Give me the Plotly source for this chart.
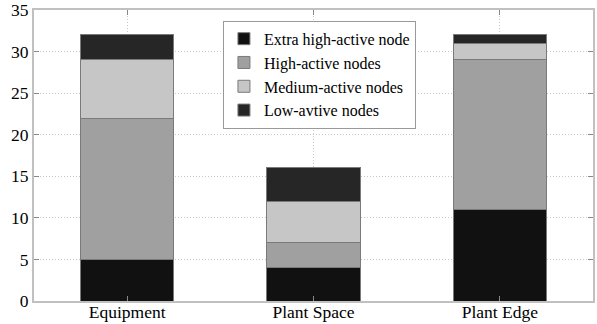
import plotly.graph_objects as go

categories = ["Equipment", "Plant Space", "Plant Edge"]
extra_high = [5, 4, 11]
high = [17, 3, 18]
medium = [7, 5, 2]
low = [3, 4, 1]
series_names = ["Extra high-active node", "High-active nodes", "Medium-active nodes", "Low-avtive nodes"]
series_colors = ["#111111", "#a0a0a0", "#c6c6c6", "#262626"]
y_ticks = [0, 5, 10, 15, 20, 25, 30, 35]

fig = go.Figure()
for name, vals, col in zip(series_names, [extra_high, high, medium, low], series_colors):
    fig.add_trace(go.Bar(x=categories, y=vals, name=name, marker=dict(color=col, line=dict(color="#7a7a7a", width=1)), width=0.5))

FAM = "Times New Roman, Liberation Serif, serif"
font = dict(family=FAM, size=17.5, color="#000000")
fig.update_layout(
    barmode="stack",
    width=597, height=324,
    margin=dict(l=34, r=4, t=10, b=23),
    plot_bgcolor="white", paper_bgcolor="white",
    font=font,
    legend=dict(x=0.338, y=0.963, xanchor="left", yanchor="top", traceorder="normal",
                bordercolor="#999999", borderwidth=1, bgcolor="white",
                font=dict(family=FAM, size=16),
                tracegroupgap=0, itemwidth=30),
    showlegend=True,
)
fig.update_xaxes(range=[-0.5, 2.5], showline=True, mirror="ticks", linecolor="#c0c0c0", linewidth=2,
                 showgrid=True, gridcolor="#c8c8c8", griddash="1px,2px", gridwidth=1,
                 ticks="inside", ticklen=5, tickcolor="#888888", tickfont=font, automargin=False,
                 ticklabelstandoff=-6)
fig.update_yaxes(range=[0, 35], tickvals=y_ticks, showline=True, mirror="ticks", linecolor="#c0c0c0", linewidth=2,
                 showgrid=True, gridcolor="#c8c8c8", griddash="1px,2px", gridwidth=1, zeroline=False,
                 ticks="inside", ticklen=5, tickcolor="#888888", tickfont=font, automargin=False)
fig.write_html("out.html", config={"displayModeBar": False},
               post_script="document.body.style.margin='0px';document.body.style.overflow='hidden';")
